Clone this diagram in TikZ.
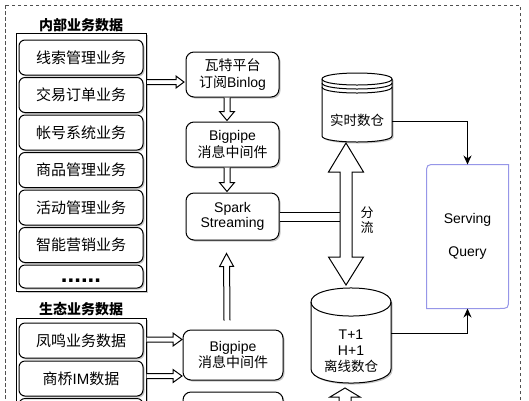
\documentclass[tikz,border=0pt]{standalone}
\usepackage{fontspec}
\setmainfont{Liberation Sans}
\newfontfamily\cjk{Noto Sans CJK SC}
\usetikzlibrary{calc,shadows,arrows.meta}
\definecolor{servcol}{RGB}{150,150,232}
\definecolor{framecol}{RGB}{80,80,80}
\newcommand\flexarr[5]{%
  \coordinate (fh) at ($(#2)!#5!(#1)$);
  \draw[arrbody] ($(#1)!#3!90:(#2)$) -- ($(fh)!#3!90:(#2)$) -- ($(fh)!#4!90:(#2)$) -- (#2) -- ($(fh)!#4!-90:(#2)$) -- ($(fh)!#3!-90:(#2)$) -- ($(#1)!#3!-90:(#2)$);
}
\begin{document}
\begin{tikzpicture}[x=1pt,y=-1pt, line width=1pt,
  sh/.style={drop shadow={shadow xshift=1.5pt,shadow yshift=-1.5pt,opacity=0.22,fill=black}},
  item/.style={draw, fill=white, rounded corners=6pt, minimum width=124pt, minimum height=35pt, inner sep=0pt, sh, font=\cjk\fontsize{15}{18}\selectfont},
  mid/.style={draw, fill=white, rounded corners=8pt, minimum width=93pt, minimum height=45pt, inner sep=0pt, sh, align=center, font=\fontsize{14}{16.5}\selectfont},
  grp/.style={draw, fill=white, minimum width=130pt, inner sep=0pt, sh},
  ttl/.style={inner sep=0pt, font=\cjk\bfseries\fontsize{14}{16}\selectfont},
  arrbody/.style={draw, fill=white, line join=miter},
  conn/.style={draw, line width=1pt, -{Stealth[length=9pt,width=8pt]}},
  dashframe/.style={draw=framecol, line width=0.9pt, dash pattern=on 3.5pt off 2.5pt},
  servline/.style={draw=servcol, line width=1pt}
]
\useasboundingbox (0,0) rectangle (529,400);
\clip (0,0) rectangle (529,400);
\fill[white] (0,0) rectangle (529,400);

% outer dashed frame
\draw[dashframe] (5,5) rectangle (520,440);

% internal business data
\node[ttl] (tA) at (81,25) {内部业务数据};
\node[grp, minimum height=258pt] (gA) at (81,162) {};
\node[item] (i1) at (81,57.5) {线索管理业务};
\node[item] (i2) at (81,95) {交易订单业务};
\node[item] (i3) at (81,132.5) {帐号系统业务};
\node[item] (i4) at (81,170) {商品管理业务};
\node[item] (i5) at (81,207.5) {活动管理业务};
\node[item] (i6) at (81,245) {智能营销业务};
\node[item, minimum height=23pt] (i7) at (81,276.5) {};
\node[anchor=base, inner sep=0pt, font=\bfseries\fontsize{24}{24}\selectfont] (dots) at (81,282) {......};

% ecosystem business data
\node[ttl] (tB) at (81,309) {生态业务数据};
\node[grp, minimum height=112pt] (gB) at (81,374) {};
\node[item] (j1) at (81,340.5) {凤鸣业务数据};
\node[item] (j2) at (81,378.5) {{\cjk 商桥}\fontspec{Liberation Sans}IM{\cjk 数据}};
\node[item] (j3) at (81,416) {};

% middle column
\node[mid] (wat) at (232.5,74.5) {{\cjk 瓦特平台}\\{\cjk 订阅}Binlog};
\node[mid] (bp1) at (232.5,144.5) {Bigpipe\\{\cjk 消息中间件}};
\node[mid, minimum height=47pt, font=\fontsize{14}{15.5}\selectfont] (spark) at (232.5,216.5) {Spark\\Streaming};
\node[mid, minimum width=100pt, minimum height=50pt] (bp2) at (233,355) {Bigpipe\\{\cjk 消息中间件}};
\node[mid, minimum width=100pt, minimum height=50pt] (bp3) at (233,417) {};

% hollow arrows
\coordinate (a1s) at (147,82); \coordinate (a1e) at (184,82);
\flexarr{a1s}{a1e}{2.5pt}{6pt}{8pt}
\coordinate (a2s) at ($(wat.south)+(-5.5,0)$); \coordinate (a2e) at ($(bp1.north)+(-5.5,-1)$);
\flexarr{a2s}{a2e}{3pt}{7.5pt}{9pt}
\coordinate (a3s) at ($(bp1.south)+(-5.5,0)$); \coordinate (a3e) at ($(spark.north)+(-5.5,-1)$);
\flexarr{a3s}{a3e}{3pt}{7.5pt}{9pt}
\coordinate (a4s) at ($(bp2.north)+(-6,-9)$); \coordinate (a4e) at ($(spark.south)+(-6,13)$);
\flexarr{a4s}{a4e}{3pt}{7pt}{13pt}
\coordinate (a5s) at (146.5,339.5); \coordinate (a5e) at (182,339.5);
\flexarr{a5s}{a5e}{2.5pt}{6.5pt}{9pt}
\coordinate (a6s) at (146.5,376); \coordinate (a6e) at (182,376);
\flexarr{a6s}{a6e}{2.5pt}{6.5pt}{9pt}

% horizontal shaft from Spark to the split arrow
\coordinate (hs1) at (340,212); \coordinate (hs2) at (340,221);
\fill[white] (spark.east |- hs1) rectangle (hs2);
\draw (spark.east |- hs1) -- (hs1);
\draw (spark.east |- hs2) -- (hs2);

% split double arrow
\coordinate (sT) at (346,143); \coordinate (sB) at (346,285);
\draw[arrbody] (sT) -- ++(17.5,29) -- ++(-11.5,0) -- ($(sB)+(6,-28)$) -- ++(11.5,0) -- (sB) -- ++(-17.5,-28) -- ++(11.5,0) -- ($(sT)+(-6,29)$) -- ++(-11.5,0) -- cycle;
\node[inner sep=0pt, align=center, font=\cjk\fontsize{13}{15}\selectfont] (fl) at (367,220.5) {分\\流};

% real-time warehouse (datastore)
\path[sh, fill=white] (322,79) -- (322,136) .. controls (322,144) and (392,144) .. (392,136) -- (392,79) .. controls (392,71) and (322,71) .. (322,79) -- cycle;
\draw (322,79) -- (322,136) .. controls (322,144) and (392,144) .. (392,136) -- (392,79) .. controls (392,71) and (322,71) .. (322,79) -- cycle;
\draw (322,79) .. controls (322,87) and (392,87) .. (392,79);
\draw (322,83) .. controls (322,91) and (392,91) .. (392,83);
\draw (322,87) .. controls (322,95) and (392,95) .. (392,87);
\node[font=\cjk\fontsize{13.5}{16}\selectfont] (rt) at (357,120) {实时数仓};

% offline warehouse (cylinder)
\path[sh, fill=white] (311,302) -- (311,369) .. controls (311,387.7) and (391,387.7) .. (391,369) -- (391,302) .. controls (391,283.3) and (311,283.3) .. (311,302) -- cycle;
\draw (311,302) -- (311,369) .. controls (311,387.7) and (391,387.7) .. (391,369) -- (391,302) .. controls (391,283.3) and (311,283.3) .. (311,302) -- cycle;
\draw (311,302) .. controls (311,320.7) and (391,320.7) .. (391,302);
\node[align=center, font=\fontsize{14}{16}\selectfont] (lx) at (351,351) {T+1\\H+1\\{\cjk\fontsize{13.5}{16}\selectfont 离线数仓}};

% arrow below the offline warehouse
\coordinate (bT) at (345,388);
\draw[arrbody] ($(bT)+(6,40)$) -- ($(bT)+(6,9)$) -- ($(bT)+(15,9)$) -- (bT) -- ($(bT)+(-15,9)$) -- ($(bT)+(-6,9)$) -- ($(bT)+(-6,40)$);

% Serving Query
\node[minimum width=81pt, minimum height=143pt, inner sep=0pt, align=center, font=\fontsize{14}{33}\selectfont] (serv) at (467.5,236.5) {Serving\\Query};
\draw[servline] (serv.south west) -- ($(serv.north west)+(0,10)$) .. controls (serv.north west) .. ($(serv.north west)+(10,0)$) -- (serv.north east) -- ($(serv.south east)+(0,-10)$) .. controls (serv.south east) .. ($(serv.south east)+(-10,0)$) -- cycle;

% connectors
\coordinate (rtR) at (392,121); \coordinate (lxR) at (391,333);
\draw[conn] (rtR) -| (serv.north);
\draw[conn] (lxR) -| (serv.south);
\end{tikzpicture}
\end{document}
